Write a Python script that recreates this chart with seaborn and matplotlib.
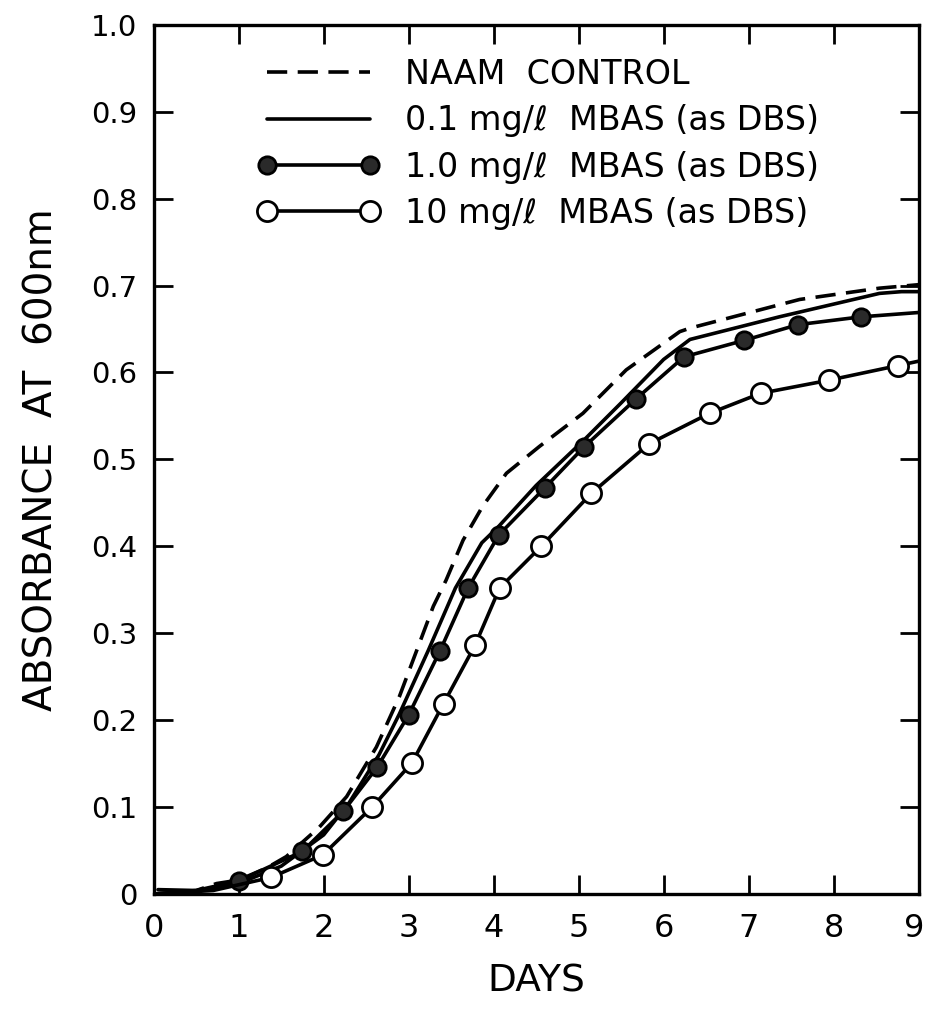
import pandas as pd
import seaborn as sns
import matplotlib.pyplot as plt
from matplotlib.transforms import ScaledTranslation

# Growth curves (days vs absorbance at 600 nm)
control_days = [0, 0.5, 0.74, 1.0, 1.33, 1.56, 1.95, 2.27, 2.62, 2.89, 3.29, 3.44, 3.64,
                3.87, 4.15, 4.54, 5.05, 5.56, 6.19, 6.31, 7.6, 8.54, 9.0]
control_abs = [0.0, 0.004, 0.012, 0.016, 0.03, 0.043, 0.077, 0.112, 0.169, 0.227, 0.331,
               0.361, 0.407, 0.446, 0.484, 0.515, 0.553, 0.603, 0.647, 0.651, 0.684, 0.697, 0.701]

low_days = [0, 0.5, 1.0, 1.5, 2.0, 2.3, 2.65, 2.89, 3.23, 3.55, 3.86, 4.06, 4.5, 5.06,
            5.5, 6.0, 6.31, 7.36, 8.54, 8.8, 9.0]
low_abs = [0.0, 0.003, 0.012, 0.032, 0.068, 0.105, 0.16, 0.207, 0.28, 0.352, 0.404, 0.423,
           0.47, 0.522, 0.565, 0.615, 0.638, 0.664, 0.691, 0.693, 0.693]

mid_days = [0.05, 0.5, 1.0, 1.75, 2.23, 2.63, 3.0, 3.37, 3.7, 4.06, 4.6, 5.06, 5.68,
            6.24, 6.95, 7.58, 8.32, 9.0]
mid_abs = [0.005, 0.004, 0.015, 0.049, 0.095, 0.146, 0.206, 0.28, 0.352, 0.413, 0.467,
           0.514, 0.57, 0.618, 0.637, 0.655, 0.664, 0.669]

high_days = [0, 0.7, 1.38, 1.99, 2.57, 3.04, 3.41, 3.78, 4.07, 4.56, 5.15, 5.83, 6.54,
             7.14, 7.94, 8.76, 9.0]
high_abs = [0.0, 0.004, 0.019, 0.045, 0.1, 0.151, 0.219, 0.286, 0.352, 0.4, 0.461, 0.518,
            0.553, 0.576, 0.591, 0.608, 0.613]

labels = ["NAAM  CONTROL",
          "0.1 mg/\u2113  MBAS (as DBS)",
          "1.0 mg/\u2113  MBAS (as DBS)",
          "10 mg/\u2113  MBAS (as DBS)"]

x_ticks = list(range(10))
y_ticks = [0, 0.1, 0.2, 0.3, 0.4, 0.5, 0.6, 0.7, 0.8, 0.9, 1.0]
y_tick_labels = ["0", "0.1", "0.2", "0.3", "0.4", "0.5", "0.6", "0.7", "0.8", "0.9", "1.0"]

sns.set_style("ticks")
plt.rcParams["font.family"] = ["DejaVu Sans"]
plt.rcParams["text.color"] = "black"
plt.rcParams["axes.labelcolor"] = "black"

fig = plt.figure(figsize=(9.26, 10.13), dpi=100)
ax = fig.add_axes([0.166, 0.1175, 0.826, 0.858])

df_control = pd.DataFrame({"days": control_days, "abs": control_abs})
df_low = pd.DataFrame({"days": low_days, "abs": low_abs})
df_mid = pd.DataFrame({"days": mid_days, "abs": mid_abs})
df_high = pd.DataFrame({"days": high_days, "abs": high_abs})

lw = 2.6
sns.lineplot(data=df_control, x="days", y="abs", ax=ax, color="black", lw=lw,
             linestyle=(0, (5.6, 2.9)), label=labels[0], sort=False)
sns.lineplot(data=df_low, x="days", y="abs", ax=ax, color="black", lw=lw,
             label=labels[1], sort=False)
sns.lineplot(data=df_mid, x="days", y="abs", ax=ax, color="black", lw=lw,
             marker="o", markersize=12.5, markerfacecolor="#2a2a2a", markeredgecolor="black",
             markeredgewidth=2, markevery=slice(2, len(mid_days) - 1),
             label=labels[2], sort=False)
sns.lineplot(data=df_high, x="days", y="abs", ax=ax, color="black", lw=lw,
             marker="o", markersize=14.5, markerfacecolor="white", markeredgecolor="black",
             markeredgewidth=2, markevery=slice(2, len(high_days) - 1),
             label=labels[3], sort=False)

ax.set_xlim(0, 9)
ax.set_ylim(0, 1.0)
ax.set_xticks(x_ticks)
ax.set_yticks(y_ticks)
ax.set_yticklabels(y_tick_labels)
ax.tick_params(direction="in", length=14, width=2, top=True, right=True,
               colors="black")
ax.tick_params(axis="y", labelsize=21, pad=12)
ax.tick_params(axis="x", labelsize=23, pad=14)
for spine in ax.spines.values():
    spine.set_visible(True)
    spine.set_linewidth(2.4)
    spine.set_color("black")

# nudge the last day label so it stays inside the canvas
last = ax.get_xticklabels()[-1]
last.set_transform(last.get_transform() + ScaledTranslation(-4 / 100, 0, fig.dpi_scale_trans))

ax.set_xlabel("DAYS", fontsize=27, labelpad=14)
ax.set_ylabel("ABSORBANCE  AT  600nm", fontsize=28, labelpad=22)

leg = ax.legend(loc="upper left", bbox_to_anchor=(0.135, 0.962), frameon=False,
                fontsize=24, handlelength=3.7, handletextpad=0.75, labelspacing=0.4,
                numpoints=2, borderaxespad=0, borderpad=0)

fig.savefig("out.png", dpi=100, facecolor="white")
